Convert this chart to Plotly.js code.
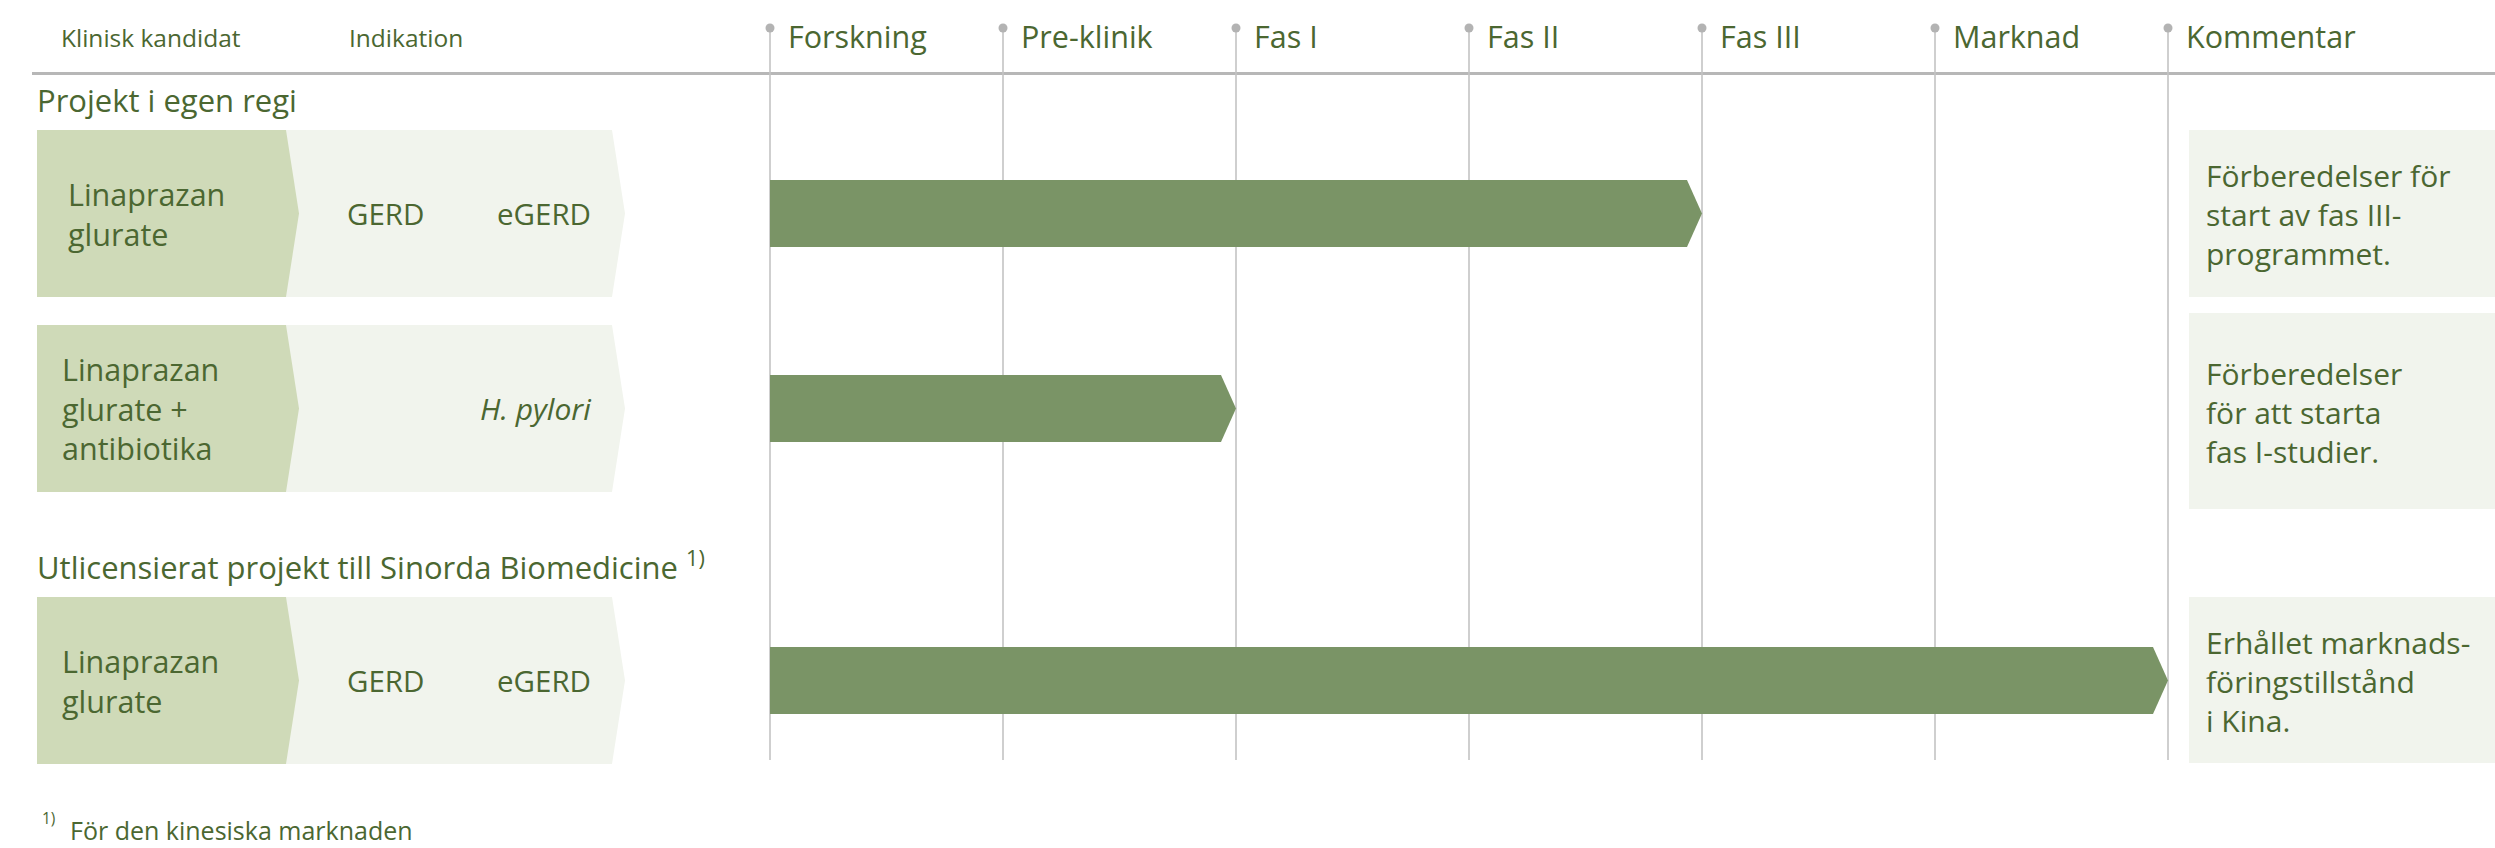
<!DOCTYPE html>
<html>
<head>
<meta charset="utf-8">
<script src="https://cdn.plot.ly/plotly-3.0.1.min.js"></script>
<style>html,body{margin:0;padding:0;background:#fff;}#chart{width:2495px;height:848px;}</style>
</head>
<body>
<div id="chart"></div>
<script>
// ---------------- DATA ----------------
const phases = ['Forskning', 'Pre-klinik', 'Fas I', 'Fas II', 'Fas III', 'Marknad', 'Kommentar'];
const headerLabels = ['Klinisk kandidat', 'Indikation'];
const groupTitles = ['Projekt i egen regi', 'Utlicensierat projekt till Sinorda Biomedicine <sup>1)</sup>'];
const candidates = ['Linaprazan<br>glurate', 'Linaprazan<br>glurate +<br>antibiotika', 'Linaprazan<br>glurate'];
const indications = [['GERD', 'eGERD'], ['<i>H. pylori</i>'], ['GERD', 'eGERD']];
const progress = [4, 2, 6]; // phase boundary reached (index into phases)
const comments = [
  'Förberedelser för<br>start av fas III-<br>programmet.',
  'Förberedelser<br>för att starta<br>fas I-studier.',
  'Erhållet marknads-<br>föringstillstånd<br>i Kina.'
];
const footnoteMark = '<sup>1)</sup>';
const footnoteText = 'För den kinesiska marknaden';

// ---------------- LAYOUT CONSTANTS ----------------
const W = 2495, H = 848;
const x0px = 770, stepPx = 233;              // pixel position of first phase line and spacing
const X = px => (px - x0px) / stepPx;         // pixel -> phase units (decoration helper)
const rowCenters = [213.5, 408.5, 680.5];
const boxHalf = 83.5, barHalf = 33.5;
const commentBoxes = [[130, 297], [313, 509], [597, 763]];
const candTextX = [66, 60, 60];
const groupTitleY = [100, 565];
const tip = 15 / stepPx;

const TXT = '#4b6731';
const FONT = 'Open Sans, Lato, sans-serif';

const shapes = [];
const annotations = [];
const traces = [];

// header line
shapes.push({type: 'line', xref: 'x', yref: 'y', x0: X(32), x1: X(W), y0: 73.5, y1: 73.5,
  line: {color: '#b7b7b7', width: 3}, layer: 'below'});

// phase lines
phases.forEach((p, i) => {
  shapes.push({type: 'line', xref: 'x', yref: 'y', x0: i, x1: i, y0: 28, y1: 760,
    line: {color: '#c3c3c3', width: 1.6}, layer: 'below'});
  annotations.push({x: i + 16 / stepPx, y: 36, xref: 'x', yref: 'y', text: p, showarrow: false,
    xanchor: 'left', yanchor: 'middle', font: {family: FONT, size: 30.5, color: TXT}});
});
traces.push({type: 'scatter', mode: 'markers', x: phases.map((p, i) => i), y: phases.map(() => 28),
  marker: {color: '#b3b3b3', size: 9}, hoverinfo: 'skip', showlegend: false});

// header labels
[59, 347].forEach((px, i) => {
  annotations.push({x: X(px), y: 37, xref: 'x', yref: 'y', text: headerLabels[i], showarrow: false,
    xanchor: 'left', yanchor: 'middle', font: {family: FONT, size: 24.5, color: TXT}});
});

// group titles
groupTitles.forEach((t, i) => {
  annotations.push({x: X(35), y: groupTitleY[i], xref: 'x', yref: 'y', text: t, showarrow: false,
    xanchor: 'left', yanchor: 'middle', font: {family: FONT, size: 31, color: TXT}});
});

// rows
candidates.forEach((c, r) => {
  const cy = rowCenters[r], t = cy - boxHalf, b = cy + boxHalf;
  // indication box
  shapes.push({type: 'path', xref: 'x', yref: 'y', layer: 'below',
    path: `M ${X(286)},${t} L ${X(612)},${t} L ${X(625)},${cy} L ${X(612)},${b} L ${X(286)},${b} Z`,
    fillcolor: '#f1f4ed', line: {width: 0}});
  // candidate box
  shapes.push({type: 'path', xref: 'x', yref: 'y', layer: 'below',
    path: `M ${X(37)},${t} L ${X(286)},${t} L ${X(299)},${cy} L ${X(286)},${b} L ${X(37)},${b} Z`,
    fillcolor: '#cfdab8', line: {width: 0}});
  annotations.push({x: X(candTextX[r]), y: cy, xref: 'x', yref: 'y', text: c, showarrow: false,
    xanchor: 'left', yanchor: 'middle', align: 'left', font: {family: FONT, size: 30.5, color: TXT}});
  // indications
  const ind = indications[r];
  if (ind.length === 2) {
    annotations.push({x: X(345), y: cy, xref: 'x', yref: 'y', text: ind[0], showarrow: false,
      xanchor: 'left', yanchor: 'middle', font: {family: FONT, size: 29.5, color: TXT}});
    annotations.push({x: X(593), y: cy, xref: 'x', yref: 'y', text: ind[1], showarrow: false,
      xanchor: 'right', yanchor: 'middle', font: {family: FONT, size: 29.5, color: TXT}});
  } else {
    annotations.push({x: X(593), y: cy, xref: 'x', yref: 'y', text: ind[0], showarrow: false,
      xanchor: 'right', yanchor: 'middle', font: {family: FONT, size: 30, color: TXT}});
  }
  // progress arrow
  const v = progress[r];
  traces.push({type: 'scatter', mode: 'lines', fill: 'toself', fillcolor: '#7a9466',
    x: [0, v - tip, v, v - tip, 0, 0],
    y: [cy - barHalf, cy - barHalf, cy, cy + barHalf, cy + barHalf, cy - barHalf],
    line: {width: 0, color: '#7a9466'}, hoverinfo: 'skip', showlegend: false});
  // comment box
  const cb = commentBoxes[r];
  shapes.push({type: 'rect', xref: 'x', yref: 'y', layer: 'below',
    x0: X(2189), x1: X(W), y0: cb[0], y1: cb[1], fillcolor: '#f1f4ed', line: {width: 0}});
  annotations.push({x: X(2204), y: (cb[0] + cb[1]) / 2 + 1, xref: 'x', yref: 'y', text: comments[r], showarrow: false,
    xanchor: 'left', yanchor: 'middle', align: 'left', font: {family: FONT, size: 30, color: TXT}});
});

// footnote
annotations.push({x: X(40), y: 818, xref: 'x', yref: 'y', text: footnoteMark, showarrow: false,
  xanchor: 'left', yanchor: 'middle', font: {family: FONT, size: 22, color: TXT}});
annotations.push({x: X(68), y: 830, xref: 'x', yref: 'y', text: footnoteText, showarrow: false,
  xanchor: 'left', yanchor: 'middle', font: {family: FONT, size: 25, color: TXT}});

const layout = {
  width: W, height: H,
  margin: {l: 0, r: 0, t: 0, b: 0, pad: 0},
  paper_bgcolor: '#ffffff', plot_bgcolor: '#ffffff',
  showlegend: false,
  xaxis: {range: [X(0), X(W)], visible: false, fixedrange: true},
  yaxis: {range: [H, 0], visible: false, fixedrange: true},
  shapes: shapes,
  annotations: annotations
};

Plotly.newPlot('chart', traces, layout, {staticPlot: true, displayModeBar: false});
</script>
</body>
</html>
